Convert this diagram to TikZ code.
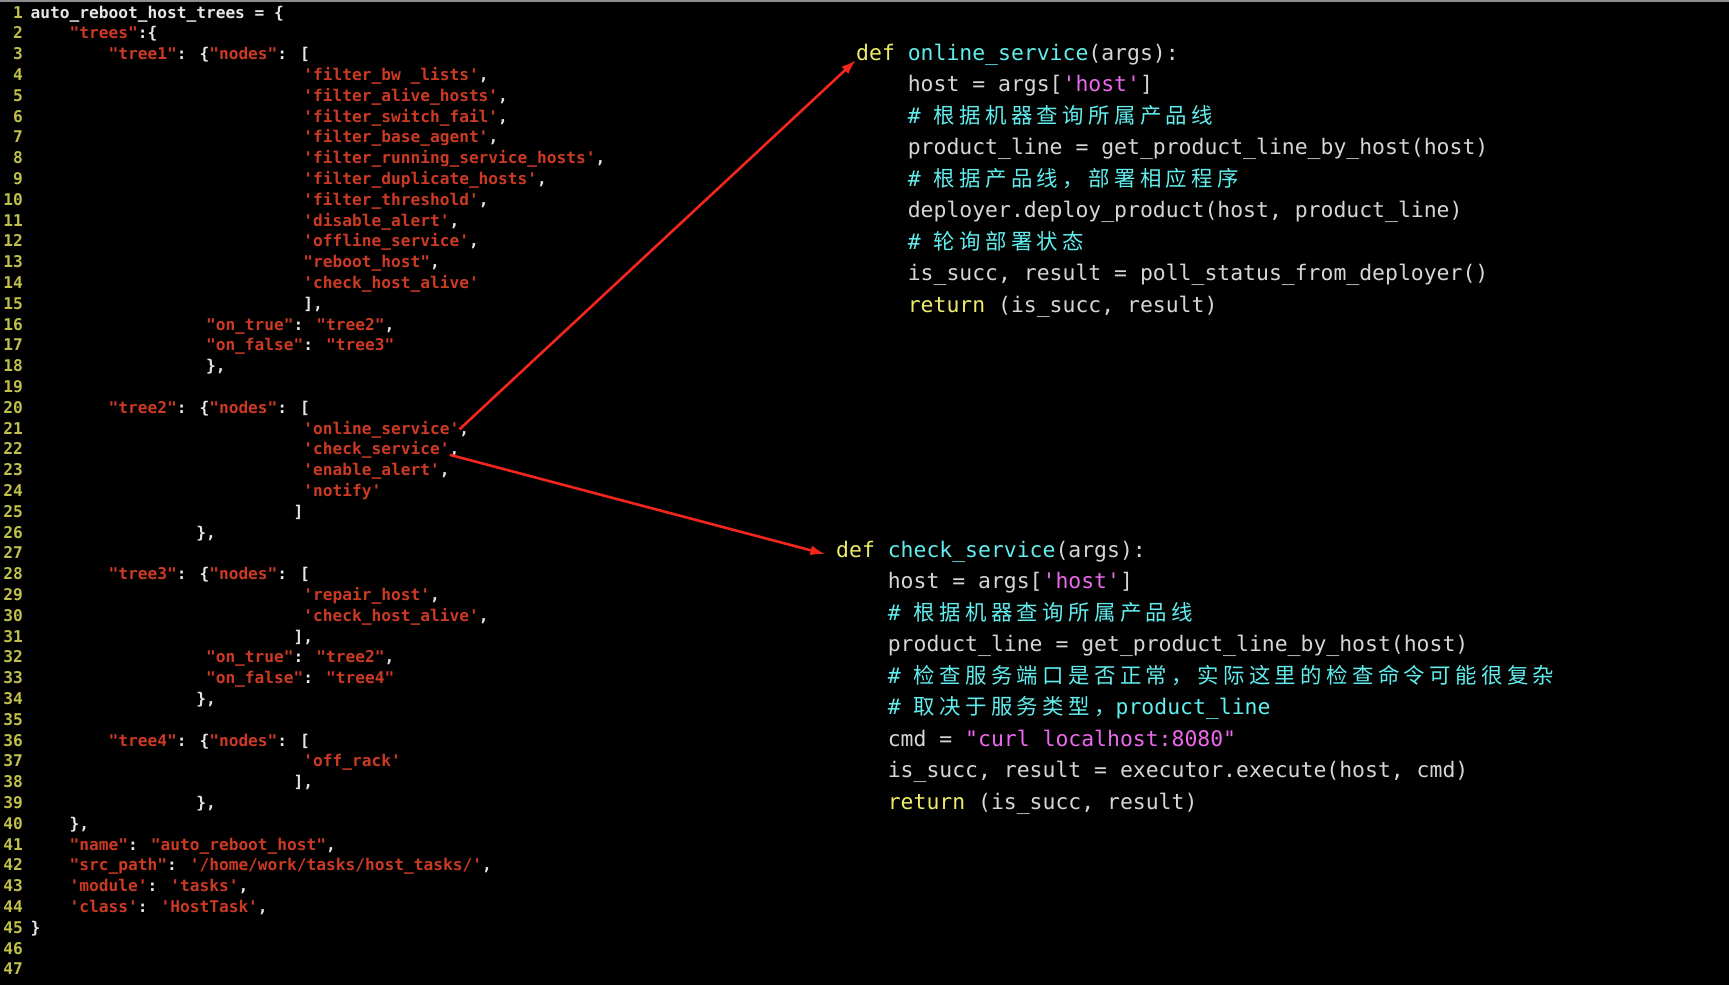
\documentclass[tikz,border=0pt]{standalone}
\usepackage{fontspec}
\usepackage{tikz}
\usetikzlibrary{arrows.meta}
\newfontfamily\codefont[Ligatures=TeXOff]{DejaVu Sans Mono}
\newfontfamily\hanfont[LetterSpace=20.4]{Noto Sans CJK SC}
\definecolor{lnum}{HTML}{C0C04A}
\definecolor{jsred}{HTML}{CC3A24}
\definecolor{jswhite}{HTML}{E6E6E6}
\definecolor{pygrey}{HTML}{D6D6D6}
\definecolor{pykey}{HTML}{EEEC6A}
\definecolor{pyname}{HTML}{62EEEE}
\definecolor{pystr}{HTML}{EC68EC}
\definecolor{arrowred}{HTML}{F2261C}
\tikzset{
	numtext/.style={inner sep=0, anchor=base east, text=lnum, font=\codefont\bfseries\fontsize{16.18}{20.8}\selectfont},
	jstext/.style={inner sep=0, anchor=base west, text=jswhite, font=\codefont\bfseries\fontsize{16.18}{20.8}\selectfont},
	pytext/.style={inner sep=0, anchor=base west, text=pygrey, font=\codefont\fontsize{21.43}{31.5}\selectfont},
	markarrow/.style={draw=arrowred, line width=2.6pt, -{Latex[length=15pt, width=10pt]}}
}
\def\jsline(#1:#2)#3#4{\node[jstext] (#3) at ({30.5 + #2*9.74}, {18 + (#1-1)*20.8}) {#4};}
\def\pyline(#1:#2)#3#4{\node[pytext] (#3) at ({#2*12.9}, {#1*31.5}) {#4};}
\def\jstr#1{\textcolor{jsred}{#1}}
\def\han#1{{\hanfont #1}}
\def\pycm#1{\textcolor{pyname}{\# #1}}

\begin{document}
\begin{tikzpicture}[x=1pt, y=-1pt]
			%%%%% START %%%%%
			
			\useasboundingbox (0, 0) rectangle (1729, 985);
			\fill[black] (0, 0) rectangle (1729, 985);
			\draw[line width=1.5pt, color=black!45] (0, 0.75) -- (1729, 0.75);
			
			\foreach \n in {1,...,47}
				\node[numtext] (ln\n) at (23, {18 + (\n-1)*20.8}) {\n};
			
			\jsline(1:0){j1}{auto\_reboot\_host\_trees = \{}
			\jsline(2:4){j2}{\jstr{"trees"}:\{}
			\jsline(3:8){j3}{\jstr{"tree1"}: \{\jstr{"nodes"}: [}
			\jsline(4:28){j4}{\jstr{'filter\_bw \_lists'},}
			\jsline(5:28){j5}{\jstr{'filter\_alive\_hosts'},}
			\jsline(6:28){j6}{\jstr{'filter\_switch\_fail'},}
			\jsline(7:28){j7}{\jstr{'filter\_base\_agent'},}
			\jsline(8:28){j8}{\jstr{'filter\_running\_service\_hosts'},}
			\jsline(9:28){j9}{\jstr{'filter\_duplicate\_hosts'},}
			\jsline(10:28){j10}{\jstr{'filter\_threshold'},}
			\jsline(11:28){j11}{\jstr{'disable\_alert'},}
			\jsline(12:28){j12}{\jstr{'offline\_service'},}
			\jsline(13:28){j13}{\jstr{"reboot\_host"},}
			\jsline(14:28){j14}{\jstr{'check\_host\_alive'}}
			\jsline(15:28){j15}{],}
			\jsline(16:18){j16}{\jstr{"on\_true"}: \jstr{"tree2"},}
			\jsline(17:18){j17}{\jstr{"on\_false"}: \jstr{"tree3"}}
			\jsline(18:18){j18}{\},}
			
			\jsline(20:8){j20}{\jstr{"tree2"}: \{\jstr{"nodes"}: [}
			\jsline(21:28){onl}{\jstr{'online\_service'}}
			\jsline(21:44){j21}{,}
			\jsline(22:28){chk}{\jstr{'check\_service'}}
			\jsline(22:43){j22}{,}
			\jsline(23:28){j23}{\jstr{'enable\_alert'},}
			\jsline(24:28){j24}{\jstr{'notify'}}
			\jsline(25:27){j25}{]}
			\jsline(26:17){j26}{\},}
			
			\jsline(28:8){j28}{\jstr{"tree3"}: \{\jstr{"nodes"}: [}
			\jsline(29:28){j29}{\jstr{'repair\_host'},}
			\jsline(30:28){j30}{\jstr{'check\_host\_alive'},}
			\jsline(31:27){j31}{],}
			\jsline(32:18){j32}{\jstr{"on\_true"}: \jstr{"tree2"},}
			\jsline(33:18){j33}{\jstr{"on\_false"}: \jstr{"tree4"}}
			\jsline(34:17){j34}{\},}
			
			\jsline(36:8){j36}{\jstr{"tree4"}: \{\jstr{"nodes"}: [}
			\jsline(37:28){j37}{\jstr{'off\_rack'}}
			\jsline(38:27){j38}{],}
			\jsline(39:17){j39}{\},}
			\jsline(40:4){j40}{\},}
			\jsline(41:4){j41}{\jstr{"name"}: \jstr{"auto\_reboot\_host"},}
			\jsline(42:4){j42}{\jstr{"src\_path"}: \jstr{'/home/work/tasks/host\_tasks/'},}
			\jsline(43:4){j43}{\jstr{'module'}: \jstr{'tasks'},}
			\jsline(44:4){j44}{\jstr{'class'}: \jstr{'HostTask'},}
			\jsline(45:0){j45}{\}}
			
			% online_service
			\begin{scope}[shift={(856, 60)}]
				\pyline(0:0){defon}{\textcolor{pykey}{def} \textcolor{pyname}{online\_service}(args):}
				\pyline(1:4){on1}{host = args[\textcolor{pystr}{'host'}]}
				\pyline(2:4){on2}{\pycm{\han{根据机器查询所属产品线}}}
				\pyline(3:4){on3}{product\_line = get\_product\_line\_by\_host(host)}
				\pyline(4:4){on4}{\pycm{\han{根据产品线，部署相应程序}}}
				\pyline(5:4){on5}{deployer.deploy\_product(host, product\_line)}
				\pyline(6:4){on6}{\pycm{\han{轮询部署状态}}}
				\pyline(7:4){on7}{is\_succ, result = poll\_status\_from\_deployer()}
				\pyline(8:4){on8}{\textcolor{pykey}{return} (is\_succ, result)}
			\end{scope}
			
			% check_service
			\begin{scope}[shift={(836, 557)}]
				\pyline(0:0){defck}{\textcolor{pykey}{def} \textcolor{pyname}{check\_service}(args):}
				\pyline(1:4){ck1}{host = args[\textcolor{pystr}{'host'}]}
				\pyline(2:4){ck2}{\pycm{\han{根据机器查询所属产品线}}}
				\pyline(3:4){ck3}{product\_line = get\_product\_line\_by\_host(host)}
				\pyline(4:4){ck4}{\pycm{\han{检查服务端口是否正常，实际这里的检查命令可能很复杂}}}
				\pyline(5:4){ck5}{\pycm{\han{取决于服务类型，}product\_line}}
				\pyline(6:4){ck6}{cmd = \textcolor{pystr}{"curl localhost:8080"}}
				\pyline(7:4){ck7}{is\_succ, result = executor.execute(host, cmd)}
				\pyline(8:4){ck8}{\textcolor{pykey}{return} (is\_succ, result)}
			\end{scope}
			
			\draw[markarrow] (onl.east) -- (defon.base west);
			\draw[markarrow, shorten >=11pt] (chk.base east) -- (defck.base west);
			
			%%%%% END %%%%%
\end{tikzpicture}
\end{document}
